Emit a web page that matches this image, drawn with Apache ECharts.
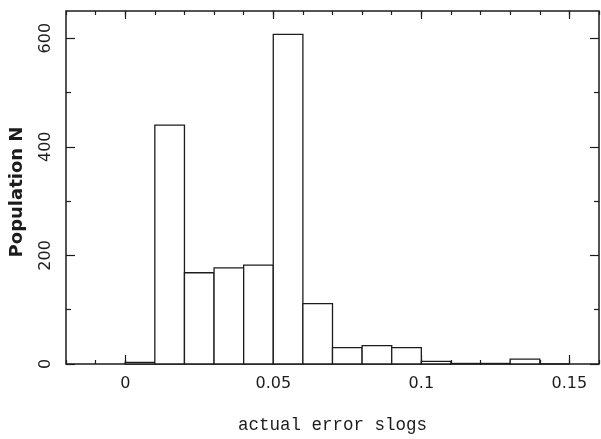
<!DOCTYPE html>
<html>
<head>
<meta charset="utf-8">
<script src="https://cdn.jsdelivr.net/npm/echarts@6/dist/echarts.min.js"></script>
<style>
html,body{margin:0;padding:0;background:#fff;}
#chart{width:601px;height:439px;}
</style>
</head>
<body>
<div id="chart"></div>
<script>
// Histogram bins (lower and upper edges) and populations
const binLow  = [0.00, 0.01, 0.02, 0.03, 0.04, 0.05, 0.06, 0.07, 0.08, 0.09, 0.10, 0.11, 0.12, 0.13, 0.14];
const binHigh = [0.01, 0.02, 0.03, 0.04, 0.05, 0.06, 0.07, 0.08, 0.09, 0.10, 0.11, 0.12, 0.13, 0.14, 0.15];
const counts  = [3, 440, 168, 177, 182, 607, 111, 30, 34, 30, 5, 1, 1, 9, 0];

// Axis tick labels
const xMajorTicks = [0, 0.05, 0.1, 0.15];
const yMajorTicks = [0, 200, 400, 600];
const yMinorTicks = [100, 300, 500];

const xTitle = 'actual error slogs';
const yTitle = 'Population N';

const ink = '#1c1c1c';
const data = binLow.map((lo, i) => [lo, binHigh[i], counts[i]]);

const xRange = {min: -0.02, max: 0.16};
const yRange = {min: 0, max: 650};

function xAxisBase(position, extra) {
  return Object.assign({
    type: 'value', position: position, gridIndex: 0,
    min: xRange.min, max: xRange.max,
    axisLine: {show: false, onZero: false},
    splitLine: {show: false},
    axisLabel: {show: false},
    axisTick: {show: true, inside: true, length: 9, lineStyle: {color: ink, width: 1.2}}
  }, extra);
}
function yAxisBase(position, extra) {
  return Object.assign({
    type: 'value', position: position, gridIndex: 0,
    min: yRange.min, max: yRange.max,
    axisLine: {show: false, onZero: false},
    splitLine: {show: false},
    axisLabel: {show: false},
    axisTick: {show: true, inside: true, length: 9, lineStyle: {color: ink, width: 1.2}}
  }, extra);
}

const chart = echarts.init(document.getElementById('chart'), null, {renderer: 'canvas'});
chart.setOption({
  animation: false,
  backgroundColor: '#fff',
  grid: {left: 66, right: 2, top: 11, bottom: 69, show: true, borderColor: ink, borderWidth: 1.5, backgroundColor: 'transparent'},
  xAxis: [
    xAxisBase('bottom', {
      name: xTitle, nameLocation: 'middle', nameGap: 52,
      nameTextStyle: {fontFamily: 'Liberation Mono', fontSize: 17.5, color: ink},
      axisTick: {show: true, inside: true, length: 9, customValues: xMajorTicks, lineStyle: {color: ink, width: 1.2}},
      axisLabel: {show: true, customValues: xMajorTicks, margin: 12, fontFamily: 'DejaVu Sans', fontSize: 16, color: ink,
        formatter: v => String(Math.round(v * 100) / 100)}
    }),
    xAxisBase('bottom', {interval: 0.01, axisTick: {show: true, inside: true, length: 4, lineStyle: {color: ink, width: 1.2}}}),
    xAxisBase('top', {axisTick: {show: true, inside: true, length: 8, customValues: xMajorTicks, lineStyle: {color: ink, width: 1.2}}}),
    xAxisBase('top', {interval: 0.01, axisTick: {show: true, inside: true, length: 4, lineStyle: {color: ink, width: 1.2}}})
  ],
  yAxis: [
    yAxisBase('left', {
      name: yTitle, nameLocation: 'middle', nameGap: 40, nameRotate: 90,
      nameTextStyle: {fontFamily: 'DejaVu Sans', fontWeight: 'bold', fontSize: 18, color: ink, padding: [0, 9, 0, 0]},
      axisTick: {show: true, inside: true, length: 9, customValues: yMajorTicks, lineStyle: {color: ink, width: 1.2}},
      axisLabel: {show: true, customValues: yMajorTicks, rotate: 90, margin: 12, fontFamily: 'DejaVu Sans', fontSize: 16, color: ink}
    }),
    yAxisBase('left', {axisTick: {show: true, inside: true, length: 5, customValues: yMinorTicks, lineStyle: {color: ink, width: 1.2}}}),
    yAxisBase('right', {axisTick: {show: true, inside: true, length: 9, customValues: yMajorTicks, lineStyle: {color: ink, width: 1.2}}}),
    yAxisBase('right', {axisTick: {show: true, inside: true, length: 5, customValues: yMinorTicks, lineStyle: {color: ink, width: 1.2}}})
  ],
  series: [{
    type: 'custom',
    xAxisIndex: 0, yAxisIndex: 0,
    encode: {x: [0, 1], y: 2},
    data: data,
    renderItem: function (params, api) {
      const p0 = api.coord([api.value(0), api.value(2)]);
      const p1 = api.coord([api.value(1), 0]);
      return {
        type: 'rect',
        shape: {x: p0[0], y: p0[1], width: p1[0] - p0[0], height: p1[1] - p0[1]},
        style: {fill: '#fff', stroke: ink, lineWidth: 1.3}
      };
    }
  }]
});
</script>
</body>
</html>
